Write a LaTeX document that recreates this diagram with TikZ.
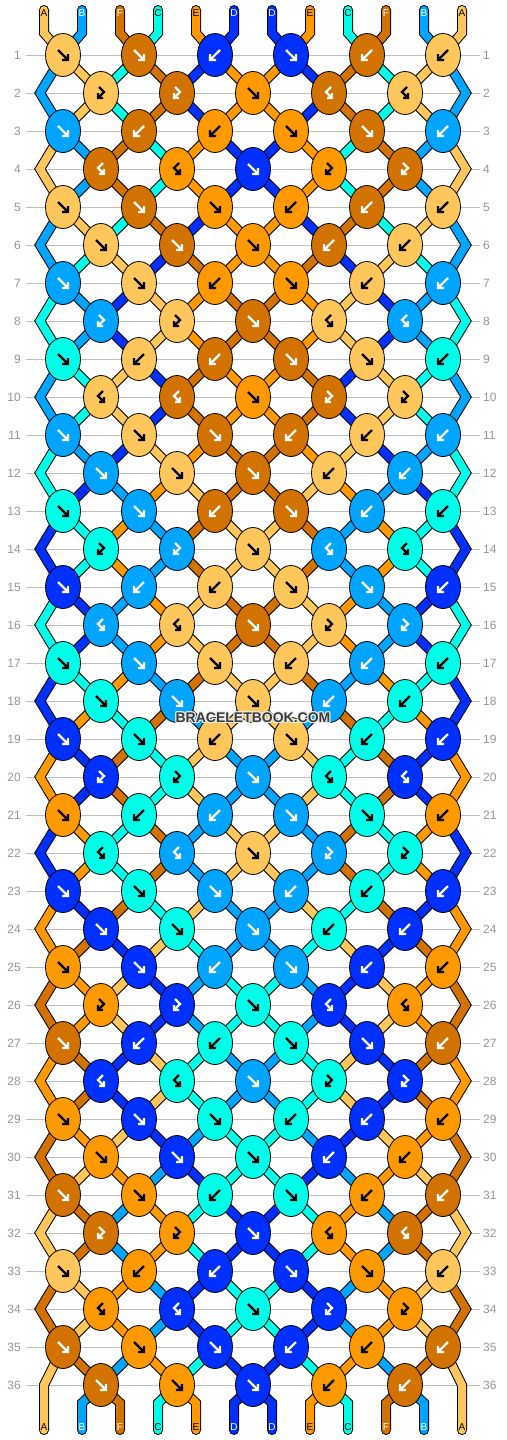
\documentclass[tikz,border=0pt]{standalone}
\usepackage{fontspec}
\setmainfont{Liberation Sans}
\usetikzlibrary{shapes.geometric}
\definecolor{cA}{HTML}{FFC65C}
\definecolor{cB}{HTML}{00A5FF}
\definecolor{cC}{HTML}{00FFE8}
\definecolor{cD}{HTML}{0030FF}
\definecolor{cE}{HTML}{FF9900}
\definecolor{cF}{HTML}{D27200}
\definecolor{rowgray}{HTML}{BEBEBE}
\definecolor{numgray}{HTML}{969696}
\definecolor{wmgray}{HTML}{3A3A3A}
\def\tcA{black}\def\tcB{white}\def\tcC{black}\def\tcD{white}\def\tcE{black}\def\tcF{white}
\pgfdeclarelayer{back}
\pgfdeclarelayer{threads}
\pgfsetlayers{back,threads,main}
\def\setstateaux#1#2#3#4#5#6\relax{%
 \expandafter\xdef\csname L1\endcsname{#1}\expandafter\xdef\csname L12\endcsname{#1}%
 \expandafter\xdef\csname L2\endcsname{#2}\expandafter\xdef\csname L11\endcsname{#2}%
 \expandafter\xdef\csname L3\endcsname{#3}\expandafter\xdef\csname L10\endcsname{#3}%
 \expandafter\xdef\csname L4\endcsname{#4}\expandafter\xdef\csname L9\endcsname{#4}%
 \expandafter\xdef\csname L5\endcsname{#5}\expandafter\xdef\csname L8\endcsname{#5}%
 \expandafter\xdef\csname L6\endcsname{#6}\expandafter\xdef\csname L7\endcsname{#6}}
\newcommand\setstate[1]{\expandafter\setstateaux#1\relax}
\newcommand\Lg[1]{\csname L#1\endcsname}
\def\getfirst#1#2\relax{\def\tfirst{#1}}
\newcommand\getX[2]{%
 \ifodd#1\relax
   \pgfmathtruncatemacro\X{63+76*floor((#2-1)/2)}%
 \else
   \ifnum#2=1\relax \def\X{40}%
   \else\ifnum#2=12\relax \def\X{466}%
   \else \pgfmathtruncatemacro\X{25+76*floor(#2/2)}%
   \fi\fi
 \fi}
\tikzset{
 knot/.style={ellipse, draw=black, line width=0.8, minimum width=35, minimum height=43, inner sep=0},
 thr/.style={draw=black, line width=1, double=#1, double distance=8, line cap=round, line join=miter},
 gl/.style={line width=2.2, line cap=butt, line join=miter},
 rowline/.style={draw=rowgray, line width=1},
 rownum/.style={text=numgray, font=\fontsize{12}{12}\selectfont, inner sep=0},
 endlab/.style={font=\fontsize{10}{10}\selectfont, inner sep=0},
 wmark/.style={font=\bfseries\fontsize{14}{14}\selectfont, inner sep=1}
}
\def\kgf{\draw[gl] (-5,-5)--(5,5) (5,-1)--(5,5)--(-1,5);}
\def\kgb{\draw[gl] (5,-5)--(-5,5) (-5,-1)--(-5,5)--(1,5);}
\def\kgfb{\draw[gl] (-2,-6)--(3,-1)--(-3,5) (-3,0)--(-3,5)--(2,5);}
\def\kgbf{\draw[gl] (2,-6)--(-3,-1)--(3,5) (3,0)--(3,5)--(-2,5);}
\begin{document}
\begin{tikzpicture}[x=1pt,y=-1pt]
\useasboundingbox (0,0) rectangle (506,1440);
\begin{pgfonlayer}{back}
\fill[white] (0,0) rectangle (506,1440);
\foreach \r in {1,...,36}{
  \pgfmathtruncatemacro\Y{17+38*\r}
  \draw[rowline] (26,\Y) -- (480,\Y);
  \node[rownum, anchor=east] (nl\r) at (21,\Y) {\r};
  \node[rownum, anchor=west] (nr\r) at (483,\Y) {\r};
}
\end{pgfonlayer}
% top ends
\setstate{ABFCED}
\begin{pgfonlayer}{threads}
\foreach \p in {1,...,12}{
  \pgfmathtruncatemacro\tx{44+38*(\p-1)}
  \getX{1}{\p}
  \edef\cc{\Lg{\p}}
  \edef\gc{\csname tc\cc\endcsname}
  \draw[thr=c\cc] (\tx,10) -- (\tx,33) -- (\X,55);
  \node[endlab, text=\gc] (top\p) at (\tx,13) {\cc};
}
\end{pgfonlayer}
\foreach \r/\st in {1/BACFDE,2/BACFDE,3/ABFCED,4/ABFCED,5/BACFDE,6/BCADFE,
  7/CBDAEF,8/CBDAEF,9/BCADFE,10/BCADFE,11/CBDAEF,12/CDBEAF,
  13/DCEBFA,14/DCEBFA,15/CDBEAF,16/CDBEAF,17/DCEBFA,18/DECFBA,
  19/EDFCAB,20/EDFCAB,21/DECFBA,22/DECFBA,23/EDFCAB,24/EFDACB,
  25/FEADBC,26/FEADBC,27/EFDACB,28/EFDACB,29/FEADBC,30/FAEBDC,
  31/AFBECD,32/AFBECD,33/FAEBDC,34/FAEBDC,35/AFBECD,36/ABFCED}{
  \pgfmathtruncatemacro\Y{17+38*\r}
  \pgfmathtruncatemacro\m{mod(\r,6)}
  \ifcase\m\relax \def\types{f,f,f,b,b}\or \def\types{f,f,b,f,b,b}\or \def\types{fb,fb,f,bf,bf}\or \def\types{f,b,b,f,f,b}\or \def\types{bf,bf,f,fb,fb}\or \def\types{f,f,f,b,b,b}\fi
  \foreach \tp [count=\k] in \types {
    \ifodd\r\relax
      \pgfmathtruncatemacro\lp{2*\k-1}\pgfmathtruncatemacro\kx{63+76*(\k-1)}%
    \else
      \pgfmathtruncatemacro\lp{2*\k}\pgfmathtruncatemacro\kx{101+76*(\k-1)}%
    \fi
    \pgfmathtruncatemacro\rp{\lp+1}
    \expandafter\getfirst\tp\relax
    \if f\tfirst \edef\kc{\Lg{\lp}}\else \edef\kc{\Lg{\rp}}\fi
    \edef\gc{\csname tc\kc\endcsname}
    \node[knot, fill=c\kc] (k\r-\k) at (\kx,\Y) {};
    \begin{scope}[shift={(\kx,\Y)}, color=\gc]
      \csname kg\tp\endcsname
    \end{scope}
  }
  \setstate{\st}
  \ifnum\r<36\relax
    \begin{pgfonlayer}{threads}
    \foreach \p in {1,...,12}{
      \edef\cc{\Lg{\p}}
      \edef\gc{\csname tc\cc\endcsname}
      \pgfmathtruncatemacro\rn{\r+1}
      \pgfmathtruncatemacro\Yn{17+38*\rn}
      \getX{\r}{\p}\let\xa\X
      \getX{\rn}{\p}\let\xb\X
      \ifnum\p=1\relax\def\isedge{1}\else\ifnum\p=12\relax\def\isedge{1}\else\def\isedge{0}\fi\fi
      \ifnum\isedge=0\relax
        \draw[thr=c\cc] (\xa,\Y) -- (\xb,\Yn);
      \else
        \ifodd\r\relax
          \ifnum\r<35\relax
            \pgfmathtruncatemacro\Ynn{17+38*(\r+2)}
            \draw[thr=c\cc] (\xa,\Y) -- (\xb,\Yn) -- (\xa,\Ynn);
          \else
            \ifnum\p=1\relax\def\bx{44}\else\def\bx{462}\fi
            \draw[thr=c\cc] (\xa,\Y) -- (\bx,\Yn) -- (\bx,1430);
            \node[endlab, text=\gc] (bot\p) at (\bx,1427) {\cc};
          \fi
        \fi
      \fi
    }
    \end{pgfonlayer}
  \else
    \begin{pgfonlayer}{threads}
    \foreach \p in {2,...,11}{
      \edef\cc{\Lg{\p}}
      \edef\gc{\csname tc\cc\endcsname}
      \getX{36}{\p}
      \pgfmathtruncatemacro\tx{44+38*(\p-1)}
      \draw[thr=c\cc] (\X,\Y) -- (\tx,1403) -- (\tx,1430);
      \node[endlab, text=\gc] (bot\p) at (\tx,1427) {\cc};
    }
    \end{pgfonlayer}
  \fi
}
\foreach \dx/\dy [count=\i] in {-1/0,1/0,0/-1,0/1,-1/-1,1/1,-1/1,1/-1}{
  \node[wmark, text=white!85!gray] (wmh\i) at (253+\dx,718+\dy) {BRACELETBOOK.COM};
}
\node[wmark, text=wmgray] (wm) at (253,718) {BRACELETBOOK.COM};
\end{tikzpicture}
\end{document}
